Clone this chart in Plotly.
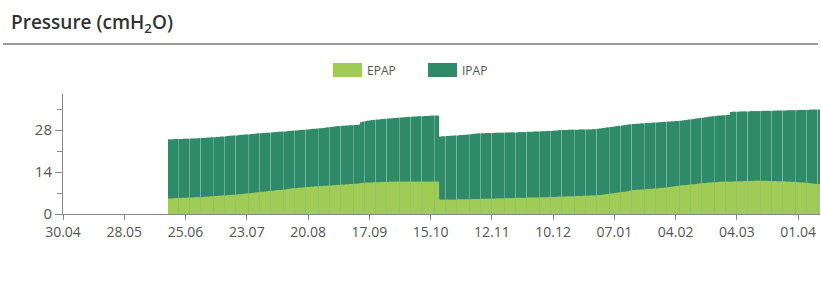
import pandas as pd
import plotly.graph_objects as go

start_date = "2022-06-17"
ipap = [
    # Jun 17-30
    24.9, 24.9, 24.9, 25.0, 25.0, 25.0, 25.0, 25.1, 25.1, 25.1, 25.2, 25.2, 25.2, 25.2,
    # Jul
    25.3, 25.3, 25.4, 25.4, 25.5, 25.5, 25.6, 25.6, 25.7, 25.7, 25.8, 25.8, 25.9, 26.0, 26.1, 26.1,
    26.2, 26.2, 26.3, 26.4, 26.4, 26.5, 26.5, 26.6, 26.7, 26.7, 26.8, 26.9, 26.9, 27.0, 27.0,
    # Aug
    27.1, 27.1, 27.2, 27.3, 27.3, 27.4, 27.4, 27.5, 27.5, 27.6, 27.7, 27.7, 27.8, 27.8, 27.9, 28.0,
    28.0, 28.1, 28.2, 28.2, 28.3, 28.4, 28.4, 28.5, 28.6, 28.6, 28.7, 28.8, 28.9, 29.0, 29.1,
    # Sep
    29.2, 29.3, 29.3, 29.4, 29.4, 29.5, 29.5, 29.6, 29.6, 29.7, 29.7, 29.8, 30.6, 30.8, 31.0,
    31.1, 31.2, 31.3, 31.4, 31.5, 31.5, 31.6, 31.7, 31.7, 31.8, 31.8, 31.9, 32.0, 32.0, 32.1,
    # Oct 1-18
    32.2, 32.2, 32.3, 32.3, 32.4, 32.4, 32.5, 32.5, 32.6, 32.6, 32.6, 32.7, 32.7, 32.7, 32.8,
    32.8, 32.8, 32.8,
    # Oct 19-31
    25.8, 25.9, 25.9, 26.0, 26.0, 26.1, 26.1, 26.2, 26.2, 26.3, 26.3, 26.4, 26.4,
    # Nov
    26.5, 26.6, 26.7, 26.8, 26.8, 26.9, 26.9, 26.9, 27.0, 27.0, 27.0, 27.0, 27.1, 27.1, 27.1,
    27.1, 27.1, 27.2, 27.2, 27.2, 27.2, 27.2, 27.2, 27.3, 27.3, 27.3, 27.3, 27.4, 27.4, 27.4,
    # Dec
    27.5, 27.5, 27.5, 27.6, 27.6, 27.6, 27.7, 27.7, 27.7, 27.8, 27.8, 27.9, 28.0, 28.0, 28.0, 28.0,
    28.1, 28.1, 28.1, 28.1, 28.1, 28.2, 28.2, 28.2, 28.2, 28.2, 28.2, 28.3, 28.3, 28.4, 28.5,
    # Jan
    28.6, 28.7, 28.8, 28.9, 29.0, 29.1, 29.2, 29.3, 29.4, 29.5, 29.6, 29.7, 29.8, 29.9, 30.0, 30.0,
    30.1, 30.1, 30.2, 30.2, 30.3, 30.3, 30.4, 30.4, 30.5, 30.5, 30.6, 30.6, 30.7, 30.7, 30.8,
    # Feb
    30.8, 30.9, 30.9, 31.0, 31.0, 31.1, 31.2, 31.3, 31.4, 31.5, 31.6, 31.7, 31.8, 31.9, 32.0,
    32.1, 32.2, 32.3, 32.4, 32.5, 32.6, 32.7, 32.8, 32.8, 32.9, 32.9, 33.0, 33.0,
    # Mar
    34.0, 34.1, 34.1, 34.1, 34.2, 34.2, 34.2, 34.2, 34.2, 34.3, 34.3, 34.3, 34.3, 34.3, 34.3, 34.4,
    34.4, 34.4, 34.4, 34.4, 34.5, 34.5, 34.5, 34.5, 34.5, 34.5, 34.6, 34.6, 34.6, 34.6, 34.6,
    # Apr 1-10
    34.7, 34.7, 34.7, 34.7, 34.7, 34.8, 34.8, 34.8, 34.8, 34.8,
]
epap = [
    # Jun 17-30
    5.2, 5.2, 5.2, 5.3, 5.3, 5.3, 5.4, 5.4, 5.4, 5.5, 5.5, 5.5, 5.6, 5.6,
    # Jul
    5.6, 5.7, 5.7, 5.8, 5.8, 5.9, 5.9, 6.0, 6.0, 6.1, 6.1, 6.2, 6.2, 6.3, 6.3, 6.4,
    6.4, 6.5, 6.6, 6.6, 6.7, 6.8, 6.9, 6.9, 7.0, 7.1, 7.2, 7.3, 7.4, 7.4, 7.5,
    # Aug
    7.6, 7.7, 7.7, 7.8, 7.9, 8.0, 8.0, 8.1, 8.2, 8.3, 8.4, 8.5, 8.6, 8.6, 8.7, 8.8,
    8.8, 8.9, 9.0, 9.0, 9.1, 9.1, 9.2, 9.2, 9.3, 9.3, 9.4, 9.4, 9.5, 9.5, 9.6,
    # Sep
    9.6, 9.7, 9.7, 9.8, 9.8, 9.9, 9.9, 10.0, 10.0, 10.1, 10.1, 10.2, 10.3, 10.4, 10.4,
    10.5, 10.5, 10.5, 10.6, 10.6, 10.6, 10.7, 10.7, 10.7, 10.7, 10.8, 10.8, 10.8, 10.8, 10.8,
    # Oct 1-18
    10.8, 10.8, 10.8, 10.8, 10.8, 10.8, 10.8, 10.8, 10.8, 10.8, 10.8, 10.8, 10.8, 10.8, 10.8,
    10.8, 10.8, 10.8,
    # Oct 19-31
    4.8, 4.8, 4.8, 4.8, 4.8, 4.8, 4.8, 4.8, 4.9, 4.9, 4.9, 4.9, 4.9,
    # Nov
    4.9, 4.9, 5.0, 5.0, 5.0, 5.0, 5.0, 5.1, 5.1, 5.1, 5.1, 5.1, 5.2, 5.2, 5.2,
    5.2, 5.2, 5.3, 5.3, 5.3, 5.3, 5.3, 5.4, 5.4, 5.4, 5.4, 5.4, 5.5, 5.5, 5.5,
    # Dec
    5.5, 5.5, 5.5, 5.6, 5.6, 5.6, 5.6, 5.7, 5.7, 5.7, 5.7, 5.8, 5.8, 5.8, 5.8, 5.9,
    5.9, 5.9, 5.9, 6.0, 6.0, 6.0, 6.0, 6.1, 6.1, 6.1, 6.2, 6.2, 6.2, 6.3, 6.3,
    # Jan
    6.4, 6.5, 6.6, 6.7, 6.8, 6.9, 7.0, 7.1, 7.2, 7.3, 7.4, 7.5, 7.6, 7.8, 8.0, 8.0,
    8.1, 8.1, 8.2, 8.2, 8.3, 8.3, 8.4, 8.4, 8.5, 8.5, 8.6, 8.7, 8.7, 8.8, 8.9,
    # Feb
    9.0, 9.1, 9.2, 9.3, 9.4, 9.5, 9.6, 9.6, 9.7, 9.8, 9.9, 9.9, 10.0, 10.1, 10.2,
    10.3, 10.3, 10.4, 10.5, 10.5, 10.6, 10.6, 10.7, 10.8, 10.8, 10.8, 10.8, 10.8,
    # Mar
    10.8, 10.8, 10.9, 10.9, 10.9, 10.9, 11.0, 11.0, 11.0, 11.0, 11.0, 11.1, 11.1, 11.1, 11.1, 11.1,
    11.1, 11.0, 11.0, 11.0, 11.0, 10.9, 10.9, 10.9, 10.9, 10.8, 10.8, 10.8, 10.7, 10.7, 10.7,
    # Apr 1-10
    10.6, 10.5, 10.5, 10.4, 10.4, 10.3, 10.2, 10.1, 10.0, 9.9,
]
x_tick_start = "2022-04-30"
x_tick_days = 28
y_ticks = [0, 14, 28]
y_minor_ticks = [7, 21, 35]

IPAP_COLOR = "#2f8a69"
EPAP_COLOR = "#a0cc55"

dates = pd.date_range(start_date, periods=len(ipap), freq="D") + pd.Timedelta(hours=12)

W, H = 821, 282
ML, MR, MT, MB = 63, 1, 94, 68
PW, PH = W - ML - MR, H - MT - MB

def px(xp):
    return (xp - ML) / PW

def py(yp):
    return (H - MB - yp) / PH

fig = go.Figure()
fig.add_trace(go.Bar(x=dates, y=ipap, name="IPAP", marker=dict(color=IPAP_COLOR, line=dict(width=0)),
                     showlegend=False))
fig.add_trace(go.Bar(x=dates, y=epap, name="EPAP", marker=dict(color=EPAP_COLOR, line=dict(width=0)),
                     showlegend=False))

shapes = [
    dict(type="line", xref="paper", yref="paper", x0=px(3), x1=px(818), y0=py(44), y1=py(44),
         line=dict(color="#9a9a9a", width=2)),
    dict(type="rect", xref="paper", yref="paper", x0=px(333), x1=px(362), y0=py(77), y1=py(63),
         fillcolor=EPAP_COLOR, line=dict(width=0)),
    dict(type="rect", xref="paper", yref="paper", x0=px(428), x1=px(457), y0=py(77), y1=py(63),
         fillcolor=IPAP_COLOR, line=dict(width=0)),
]
annotations = [
    dict(text="Pressure (cmH<sub>2</sub>O)", xref="paper", yref="paper", x=px(9), y=py(23),
         xanchor="left", yanchor="middle", showarrow=False,
         font=dict(family="Open Sans", size=19, color="#333333", weight=600)),
    dict(text="EPAP", xref="paper", yref="paper", x=px(365), y=py(70), xanchor="left", yanchor="middle",
         showarrow=False, font=dict(family="Open Sans", size=12, color="#555555")),
    dict(text="IPAP", xref="paper", yref="paper", x=px(460), y=py(70), xanchor="left", yanchor="middle",
         showarrow=False, font=dict(family="Open Sans", size=12, color="#555555")),
]

fig.update_layout(
    width=W, height=H,
    margin=dict(l=ML, r=MR, t=MT, b=MB, autoexpand=False),
    paper_bgcolor="white", plot_bgcolor="white",
    barmode="overlay", bargap=0.18,
    shapes=shapes, annotations=annotations,
    font=dict(family="Open Sans", size=12, color="#555555"),
)
fig.update_xaxes(
    type="date",
    range=[x_tick_start, "2023-04-11"],
    tick0=x_tick_start, dtick=x_tick_days * 86400000, tickformat="%d.%m",
    ticks="outside", ticklen=5, tickcolor="#888888",
    showline=True, linecolor="#888888", linewidth=1,
    showgrid=False, zeroline=False, automargin=False,
    tickfont=dict(size=14, color="#555555"),
)
fig.update_yaxes(
    range=[0, 40],
    tickvals=y_ticks, ticktext=[str(v) for v in y_ticks],
    ticks="outside", ticklen=7, tickcolor="#888888",
    minor=dict(tickvals=y_minor_ticks, ticks="outside", ticklen=5, tickcolor="#888888"),
    showline=True, linecolor="#888888", linewidth=1,
    showgrid=False, zeroline=False, automargin=False,
    tickfont=dict(size=15, color="#555555"),
)

fig.write_html("out.html", config={"displayModeBar": False},
               post_script="document.body.style.margin='0px';document.body.style.overflow='hidden';")
